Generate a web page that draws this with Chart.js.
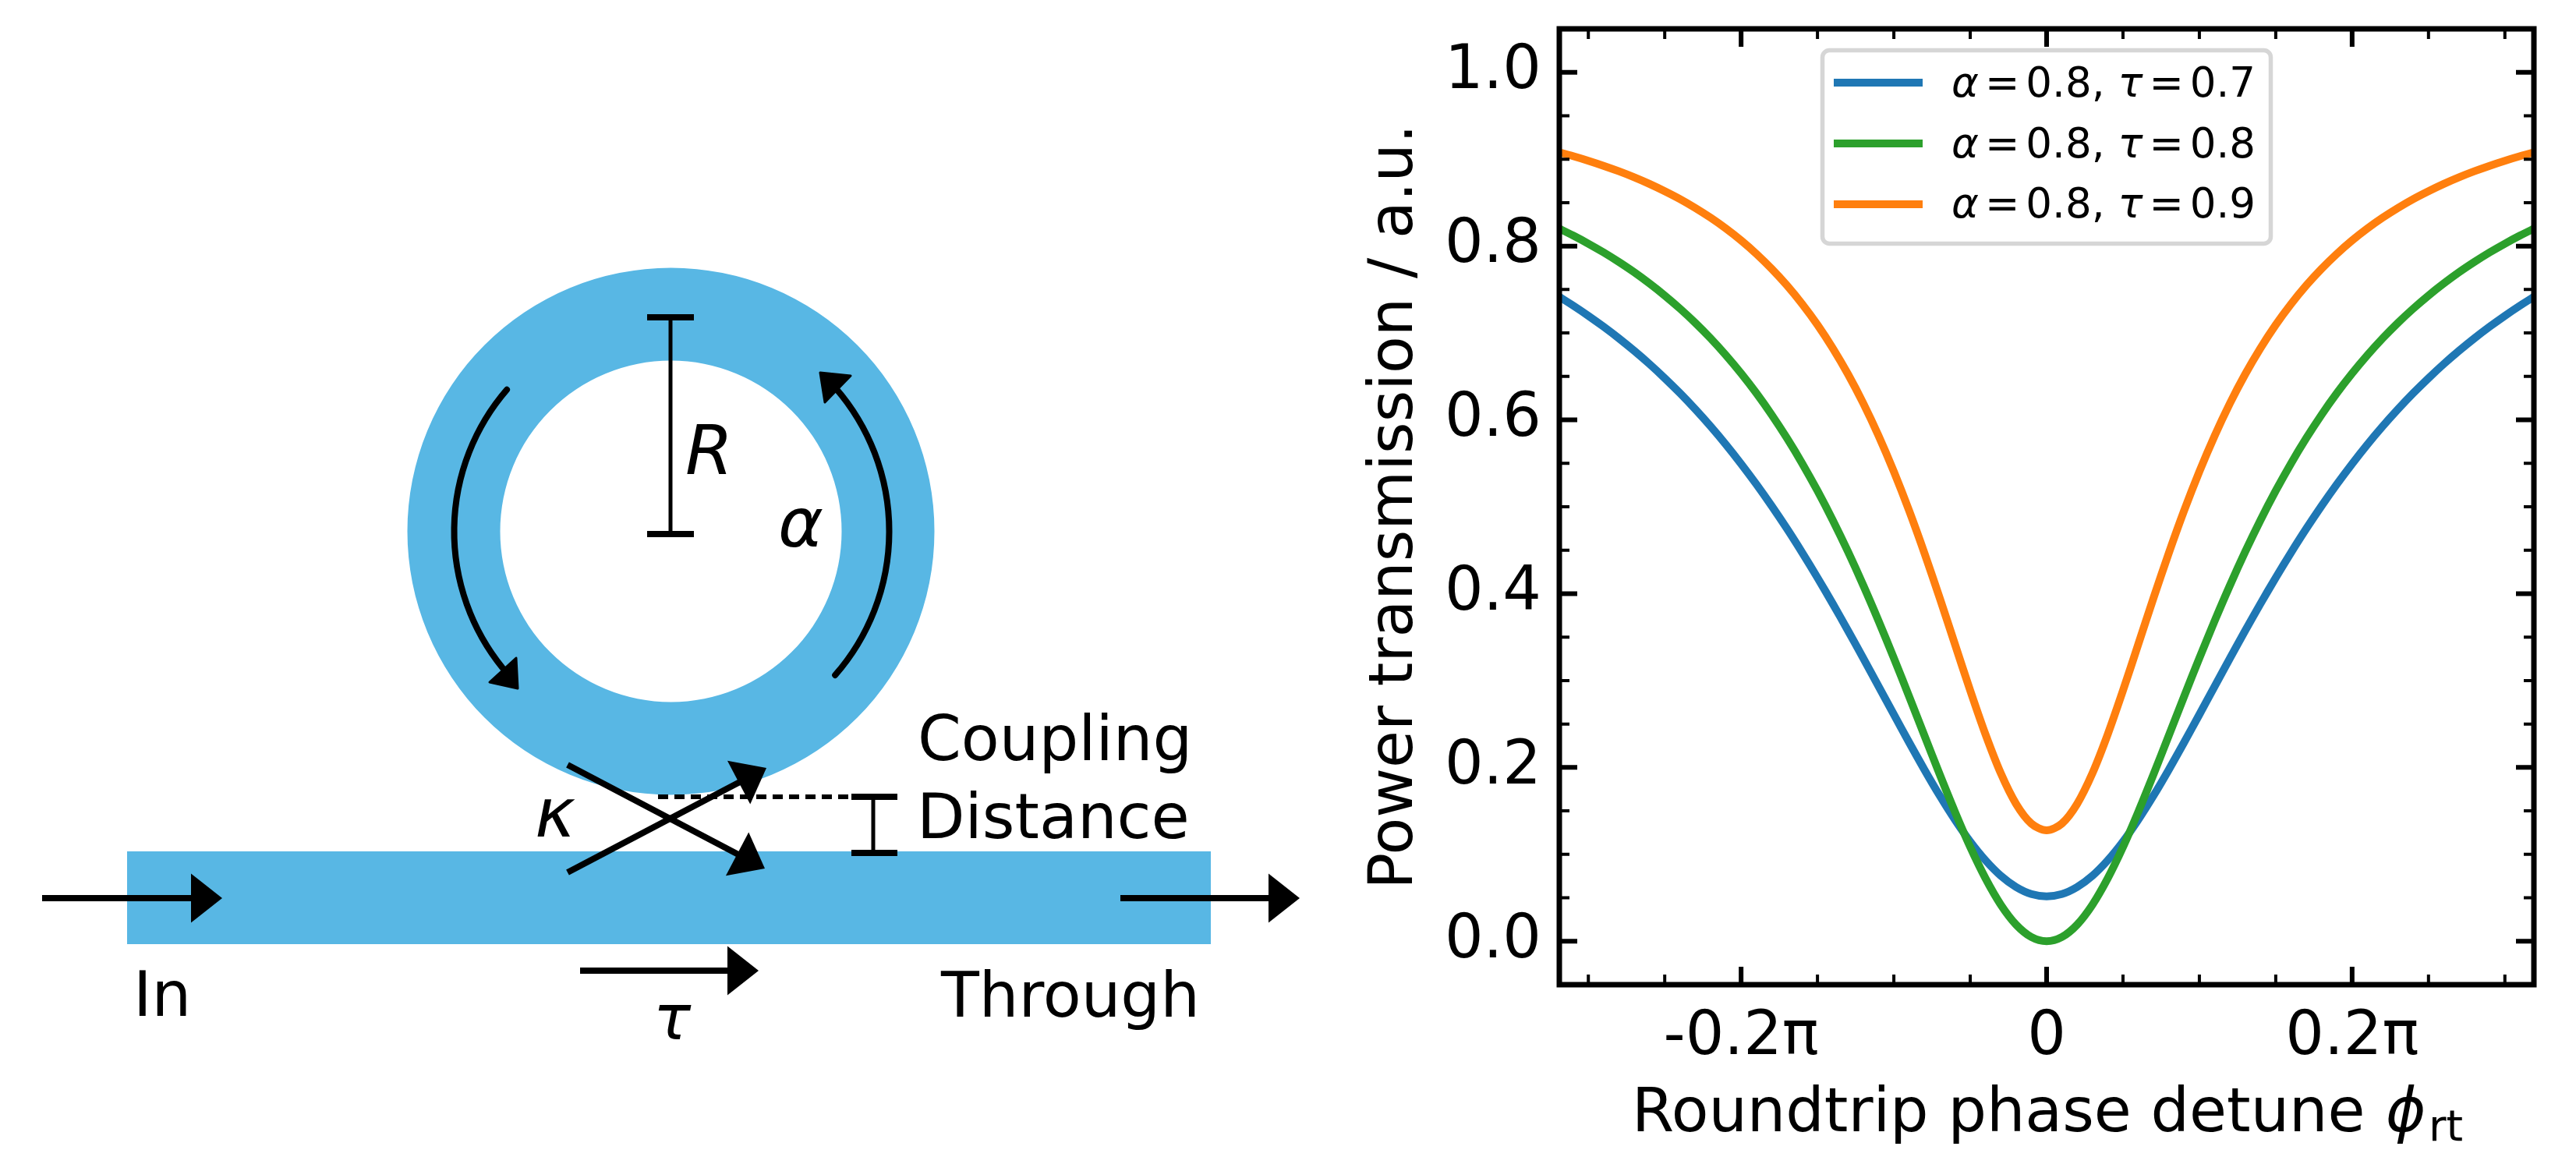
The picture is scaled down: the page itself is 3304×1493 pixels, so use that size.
<!DOCTYPE html>
<html>
<head>
<meta charset="utf-8">
<title>Ring resonator transmission</title>
<script src="https://cdn.jsdelivr.net/npm/chart.js@4"></script>
<style>
  html, body { margin: 0; padding: 0; background: #fff; }
  canvas { display: block; }
</style>
</head>
<body>
<canvas id="ring-chart" width="3304" height="1493"></canvas>
<script>
// x values are in units of pi
const detune = [-0.32, -0.31, -0.30, -0.29, -0.28, -0.27, -0.26, -0.25, -0.24, -0.23, -0.22, -0.21, -0.20, -0.19, -0.18, -0.17,
  -0.16, -0.15, -0.14, -0.13, -0.12, -0.11, -0.10, -0.09, -0.08, -0.07, -0.06, -0.05, -0.04, -0.03, -0.02, -0.01, 0,
  0.01, 0.02, 0.03, 0.04, 0.05, 0.06, 0.07, 0.08, 0.09, 0.10, 0.11, 0.12, 0.13, 0.14, 0.15, 0.16,
  0.17, 0.18, 0.19, 0.20, 0.21, 0.22, 0.23, 0.24, 0.25, 0.26, 0.27, 0.28, 0.29, 0.30, 0.31, 0.32];

const tau07 = [0.7427, 0.7316, 0.7198, 0.7072, 0.6938, 0.6795, 0.6643, 0.6480, 0.6307, 0.6122, 0.5926, 0.5717, 0.5494, 0.5259, 0.5010, 0.4748,
  0.4472, 0.4184, 0.3884, 0.3574, 0.3256, 0.2933, 0.2609, 0.2288, 0.1975, 0.1676, 0.1398, 0.1147, 0.0931, 0.0754, 0.0624, 0.0543, 0.0517,
  0.0543, 0.0624, 0.0754, 0.0931, 0.1147, 0.1398, 0.1676, 0.1975, 0.2288, 0.2609, 0.2933, 0.3256, 0.3574, 0.3884, 0.4184, 0.4472,
  0.4748, 0.5010, 0.5259, 0.5494, 0.5717, 0.5926, 0.6122, 0.6307, 0.6480, 0.6643, 0.6795, 0.6938, 0.7072, 0.7198, 0.7316, 0.7427];
const tau08 = [0.8209, 0.8122, 0.8028, 0.7927, 0.7817, 0.7699, 0.7570, 0.7431, 0.7280, 0.7117, 0.6939, 0.6745, 0.6535, 0.6307, 0.6059, 0.5790,
  0.5499, 0.5184, 0.4845, 0.4482, 0.4095, 0.3686, 0.3258, 0.2817, 0.2368, 0.1921, 0.1489, 0.1084, 0.0723, 0.0420, 0.0191, 0.0048, 0,
  0.0048, 0.0191, 0.0420, 0.0723, 0.1084, 0.1489, 0.1921, 0.2368, 0.2817, 0.3258, 0.3686, 0.4095, 0.4482, 0.4845, 0.5184, 0.5499,
  0.5790, 0.6059, 0.6307, 0.6535, 0.6745, 0.6939, 0.7117, 0.7280, 0.7431, 0.7570, 0.7699, 0.7817, 0.7927, 0.8028, 0.8122, 0.8209];
const tau09 = [0.9084, 0.9035, 0.8982, 0.8924, 0.8861, 0.8792, 0.8716, 0.8632, 0.8541, 0.8439, 0.8327, 0.8203, 0.8065, 0.7911, 0.7739, 0.7548,
  0.7333, 0.7094, 0.6825, 0.6525, 0.6190, 0.5817, 0.5405, 0.4955, 0.4468, 0.3951, 0.3417, 0.2885, 0.2380, 0.1933, 0.1581, 0.1354, 0.1276,
  0.1354, 0.1581, 0.1933, 0.2380, 0.2885, 0.3417, 0.3951, 0.4468, 0.4955, 0.5405, 0.5817, 0.6190, 0.6525, 0.6825, 0.7094, 0.7333,
  0.7548, 0.7739, 0.7911, 0.8065, 0.8203, 0.8327, 0.8439, 0.8541, 0.8632, 0.8716, 0.8792, 0.8861, 0.8924, 0.8982, 0.9035, 0.9084];

const seriesLabels = ['α = 0.8, τ = 0.7', 'α = 0.8, τ = 0.8', 'α = 0.8, τ = 0.9'];
const seriesColors = ['#1f77b4', '#2ca02c', '#ff7f0e'];

const xMajorTicks = [-0.2, 0, 0.2];
const xTickLabels = ['-0.2π', '0', '0.2π'];
const xMinorTicks = [-0.30, -0.25, -0.15, -0.10, -0.05, 0.05, 0.10, 0.15, 0.25, 0.30];
const yMajorTicks = [0, 0.2, 0.4, 0.6, 0.8, 1.0];
const yMinorTicks = [0.05, 0.1, 0.15, 0.25, 0.3, 0.35, 0.45, 0.5, 0.55, 0.65, 0.7, 0.75, 0.85, 0.9, 0.95];

const FONT = '"DejaVu Sans"';
const BLUE = '#58b7e4';

// inward ticks on all four sides plus the frame
const frameTicks = {
  id: 'frameTicks',
  afterDatasetsDraw(chart) {
    const { ctx, chartArea: a, scales } = chart;
    ctx.save();
    ctx.strokeStyle = '#000';
    function xTick(v, len, w) {
      const px = scales.x.getPixelForValue(v);
      ctx.lineWidth = w;
      ctx.beginPath();
      ctx.moveTo(px, a.top); ctx.lineTo(px, a.top + len);
      ctx.moveTo(px, a.bottom); ctx.lineTo(px, a.bottom - len);
      ctx.stroke();
    }
    function yTick(v, len, w) {
      const py = scales.y.getPixelForValue(v);
      ctx.lineWidth = w;
      ctx.beginPath();
      ctx.moveTo(a.left, py); ctx.lineTo(a.left + len, py);
      ctx.moveTo(a.right, py); ctx.lineTo(a.right - len, py);
      ctx.stroke();
    }
    xMajorTicks.forEach(v => xTick(v, 23, 6));
    xMinorTicks.forEach(v => xTick(v, 13, 4));
    yMajorTicks.forEach(v => yTick(v, 23, 6));
    yMinorTicks.forEach(v => yTick(v, 13, 4));
    ctx.lineWidth = 7;
    ctx.strokeRect(a.left, a.top, a.right - a.left, a.bottom - a.top);
    ctx.restore();
  }
};

// x axis title has an italic phi and a subscript so it can't use the normal title
const xTitle = {
  id: 'xTitle',
  afterDraw(chart) {
    const ctx = chart.ctx;
    ctx.save();
    ctx.fillStyle = '#000';
    ctx.textBaseline = 'alphabetic';
    ctx.textAlign = 'left';
    ctx.font = '78px ' + FONT;
    ctx.fillText('Roundtrip phase detune', 2093, 1451);
    ctx.font = 'italic 78px ' + FONT;
    ctx.fillText('ϕ', 3060, 1451);
    ctx.font = '55px ' + FONT;
    ctx.fillText('rt', 3115, 1463);
    ctx.restore();
  }
};

// legend box, greek letters are italic like in the original
const mathLegend = {
  id: 'mathLegend',
  afterDraw(chart) {
    const ctx = chart.ctx;
    ctx.save();
    ctx.fillStyle = 'rgba(255,255,255,0.8)';
    ctx.strokeStyle = '#d6d6d6';
    ctx.lineWidth = 5.5;
    ctx.beginPath();
    ctx.roundRect(2337.5, 64.5, 575, 248, 9);
    ctx.fill();
    ctx.stroke();

    const handleY = [106, 184, 262];
    const baseY = [124, 202, 279];
    chart.data.datasets.forEach((ds, i) => {
      ctx.strokeStyle = ds.borderColor;
      ctx.lineWidth = 10;
      ctx.beginPath();
      ctx.moveTo(2352, handleY[i]);
      ctx.lineTo(2466, handleY[i]);
      ctx.stroke();

      ctx.fillStyle = '#000';
      ctx.textBaseline = 'alphabetic';
      ctx.textAlign = 'left';
      let x = 2503;
      const chars = ds.label.split('');
      chars.forEach((c, k) => {
        if (c === ' ') {
          x += chars[k - 1] === ',' ? 17 : 8;
          return;
        }
        ctx.font = (c === 'α' || c === 'τ' ? 'italic ' : '') + '53px ' + FONT;
        ctx.fillText(c, x, baseY[i]);
        x += ctx.measureText(c).width;
      });
    });
    ctx.restore();
  }
};

// left panel, the ring + bus waveguide schematic
function arrowHead(ctx, tipX, tipY, dirX, dirY) {
  const n = Math.hypot(dirX, dirY);
  const ux = dirX / n, uy = dirY / n;
  const bx = tipX - ux * 40, by = tipY - uy * 40;
  ctx.beginPath();
  ctx.moveTo(tipX, tipY);
  ctx.lineTo(bx - uy * 31.5, by + ux * 31.5);
  ctx.lineTo(bx + uy * 31.5, by - ux * 31.5);
  ctx.closePath();
  ctx.fill();
}

function straightArrow(ctx, x0, y0, tipX, tipY, w) {
  const n = Math.hypot(tipX - x0, tipY - y0);
  ctx.lineWidth = w;
  ctx.beginPath();
  ctx.moveTo(x0, y0);
  ctx.lineTo(tipX - (tipX - x0) / n * 38, tipY - (tipY - y0) / n * 38);
  ctx.stroke();
  arrowHead(ctx, tipX, tipY, tipX - x0, tipY - y0);
}

const schematic = {
  id: 'schematic',
  afterDraw(chart) {
    const ctx = chart.ctx;
    const deg = Math.PI / 180;
    const cx = 860.5, cy = 681.5;
    ctx.save();

    ctx.fillStyle = BLUE;
    ctx.beginPath();
    ctx.arc(cx, cy, 338, 0, 2 * Math.PI);
    ctx.arc(cx, cy, 219, 0, 2 * Math.PI, true);
    ctx.fill();
    ctx.fillRect(163, 1092, 1390, 119);

    ctx.strokeStyle = '#000';
    ctx.fillStyle = '#000';
    ctx.lineCap = 'butt';

    // radius bar
    ctx.lineWidth = 5;
    ctx.beginPath();
    ctx.moveTo(860, 407); ctx.lineTo(860, 685);
    ctx.stroke();
    ctx.fillRect(830, 403, 60, 8);
    ctx.fillRect(830, 681, 60, 8);

    // circulating arrows
    ctx.lineWidth = 8;
    ctx.lineCap = 'round';
    ctx.beginPath();
    ctx.arc(cx, cy, 278, 220.8 * deg, 141 * deg, true);
    ctx.stroke();
    ctx.beginPath();
    ctx.arc(cx, cy, 280, 41.2 * deg, -41 * deg, true);
    ctx.stroke();
    ctx.lineCap = 'butt';
    ctx.lineJoin = 'round';
    ctx.lineWidth = 3;
    [[[662, 844], [628, 875], [664, 883]], [[1052, 478], [1091, 482], [1058, 516]]].forEach(t => {
      ctx.beginPath();
      ctx.moveTo(t[0][0], t[0][1]);
      ctx.lineTo(t[1][0], t[1][1]);
      ctx.lineTo(t[2][0], t[2][1]);
      ctx.closePath();
      ctx.fill();
      ctx.stroke();
    });

    // coupling distance marker
    ctx.lineWidth = 6;
    ctx.setLineDash([13, 8]);
    ctx.beginPath();
    ctx.moveTo(844, 1022); ctx.lineTo(1092, 1022);
    ctx.stroke();
    ctx.setLineDash([]);
    ctx.lineWidth = 5;
    ctx.beginPath();
    ctx.moveTo(1120, 1022); ctx.lineTo(1120, 1094);
    ctx.stroke();
    ctx.fillRect(1092, 1018, 59, 8);
    ctx.fillRect(1092, 1090, 59, 8);

    // coupler cross
    straightArrow(ctx, 728, 981, 981, 1114, 8);
    straightArrow(ctx, 728, 1119, 983, 985, 8);

    // bus arrows
    straightArrow(ctx, 54, 1152, 285, 1152, 8);
    straightArrow(ctx, 1437, 1152, 1667, 1152, 8);
    straightArrow(ctx, 744, 1245, 973, 1245, 8);

    // labels
    ctx.textBaseline = 'alphabetic';
    ctx.textAlign = 'left';
    ctx.font = '80px ' + FONT;
    ctx.fillText('Coupling', 1177, 975);
    ctx.fillText('Distance', 1176, 1075);
    ctx.fillText('In', 171, 1303);
    ctx.fillText('Through', 1207, 1304);
    ctx.font = 'italic 88px ' + FONT;
    ctx.fillText('R', 879, 608);
    ctx.fillText('α', 998, 701);
    ctx.fillText('κ', 686, 1073);
    ctx.font = 'italic 80px ' + FONT;
    ctx.fillText('τ', 838, 1333);
    ctx.restore();
  }
};

const seriesValues = [tau07, tau08, tau09];

new Chart(document.getElementById('ring-chart'), {
  type: 'line',
  data: {
    datasets: seriesLabels.map((label, i) => ({
      label: label,
      data: detune.map((x, k) => ({ x: x, y: seriesValues[i][k] })),
      borderColor: seriesColors[i],
      borderWidth: 10,
      pointRadius: 0,
      fill: false,
      tension: 0.3,
      clip: 0,
      order: 3 - i
    }))
  },
  options: {
    responsive: false,
    animation: false,
    events: [],
    layout: { padding: { top: 37, right: 54, left: 0, bottom: 0 } },
    plugins: { legend: { display: false }, tooltip: { enabled: false } },
    scales: {
      x: {
        type: 'linear',
        min: -0.319,
        max: 0.319,
        grid: { display: false },
        border: { display: false },
        afterBuildTicks(scale) { scale.ticks = xMajorTicks.map(v => ({ value: v })); },
        afterFit(scale) {
          scale.height = 230;
          scale.paddingLeft = 0; scale.paddingRight = 0;
        },
        ticks: {
          color: '#000',
          maxRotation: 0,
          autoSkip: false,
          padding: 14,
          font: { family: 'DejaVu Sans', size: 78 },
          callback: v => xTickLabels[xMajorTicks.indexOf(v)]
        }
      },
      y: {
        min: -0.05,
        max: 1.05,
        grid: { display: false },
        border: { display: false },
        afterBuildTicks(scale) { scale.ticks = yMajorTicks.map(v => ({ value: v })); },
        afterFit(scale) {
          scale.width = 2000;
          scale.paddingTop = 0; scale.paddingBottom = 0;
        },
        ticks: {
          color: '#000',
          autoSkip: false,
          padding: 15,
          font: { family: 'DejaVu Sans', size: 78 },
          callback: v => v.toFixed(1)
        },
        title: {
          display: true,
          text: 'Power transmission / a.u.',
          color: '#000',
          font: { family: 'DejaVu Sans', size: 78 },
          padding: { top: 1744, bottom: 0 }
        }
      }
    }
  },
  plugins: [frameTicks, xTitle, mathLegend, schematic]
});
</script>
</body>
</html>
